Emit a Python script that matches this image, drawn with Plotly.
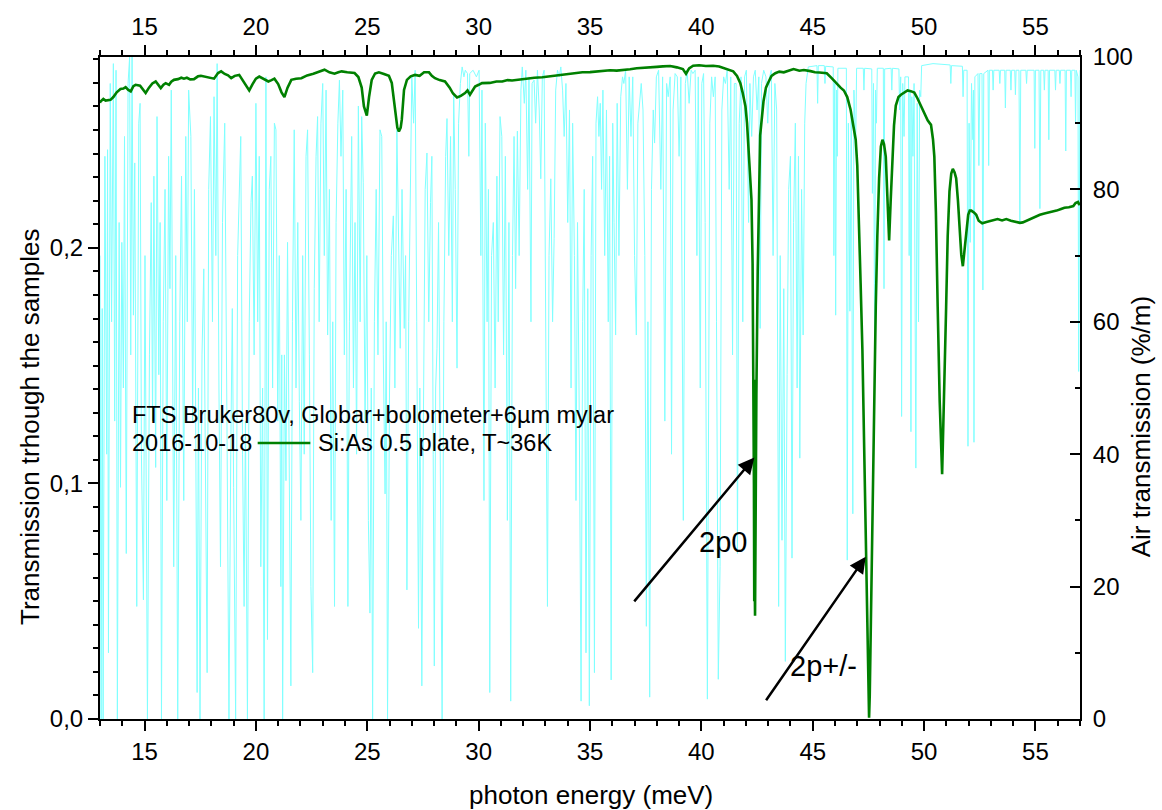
import plotly.graph_objects as go

# ---- air transmission (%/m), dense absorption forest 13-29 meV ----
air_e_a = [13.00, 13.05, 13.10, 13.14, 13.22, 13.30, 13.34, 13.38, 13.46, 13.52, 13.60, 13.66, 13.72, 13.78,
           13.86, 13.92, 13.98, 14.05, 14.10, 14.18, 14.26, 14.33, 14.38, 14.44, 14.50, 14.56, 14.65, 14.74,
           14.80, 14.86, 14.95, 15.02, 15.13, 15.22, 15.30, 15.36, 15.42, 15.50, 15.56, 15.64, 15.70, 15.76,
           15.84, 15.92, 16.00, 16.08, 16.14, 16.20, 16.31, 16.40, 16.49, 16.58, 16.66, 16.76, 16.85, 16.92,
           16.98, 17.08, 17.16, 17.24, 17.36, 17.42, 17.49, 17.58, 17.66, 17.74, 17.81, 17.88, 17.96, 18.05,
           18.12, 18.20, 18.26, 18.34, 18.41, 18.50, 18.60, 18.70, 18.79, 18.87, 18.94, 19.00, 19.09, 19.18,
           19.26, 19.32, 19.40, 19.47, 19.53, 19.62, 19.70, 19.78, 19.84, 19.92, 20.00, 20.08, 20.15, 20.22,
           20.30, 20.37, 20.45, 20.52, 20.60, 20.67, 20.75, 20.83, 20.90, 20.98, 21.05, 21.12, 21.16, 21.20,
           21.28, 21.35, 21.42, 21.50, 21.57, 21.64, 21.72, 21.80, 21.88, 21.95, 22.02, 22.10, 22.17, 22.25,
           22.32, 22.40, 22.47, 22.55, 22.62, 22.70, 22.77, 22.84, 22.92, 23.00, 23.07, 23.15, 23.22, 23.30,
           23.38, 23.45, 23.53, 23.60, 23.68, 23.75, 23.82, 23.90, 23.97, 24.05, 24.13, 24.20, 24.30, 24.38,
           24.45, 24.52, 24.60, 24.68, 24.75, 24.82, 24.90, 24.98, 25.05, 25.12, 25.18, 25.24, 25.32, 25.40,
           25.48, 25.57, 25.65, 25.72, 25.80, 25.85, 25.91, 26.00, 26.08, 26.17, 26.24, 26.33, 26.40, 26.48,
           26.56, 26.66, 26.72, 26.78, 26.86, 26.94, 27.00, 27.08, 27.15, 27.22, 27.30, 27.36, 27.45, 27.52,
           27.60, 27.68, 27.76, 27.84, 27.90, 27.96, 28.01, 28.07, 28.13, 28.20, 28.28, 28.36, 28.44, 28.52,
           28.58, 28.66, 28.74, 28.82, 28.88, 28.95, 29.03, 29.10, 29.18]
air_t_a = [70, 0, 62, 0, 85, 40, 86, 10, 96, 60, 99, 45, 98, 0,
           75, 35, 72, 50, 88, 25, 96, 100, 55, 100, 61, 84, 17, 90,
           93, 40, 18, 70, 0, 55, 78, 45, 82, 38, 91, 52, 75, 0,
           60, 80, 33, 85, 65, 95, 23, 70, 0, 60, 82, 33, 88, 60,
           95, 88, 45, 80, 4, 50, 0, 55, 68, 30, 7, 80, 91, 60,
           94, 70, 99, 50, 23, 75, 90, 45, 0, 40, 62, 35, 0, 70,
           82, 88, 40, 17, 45, 0, 60, 78, 82, 55, 93, 60, 85, 23,
           50, 0, 97, 12, 80, 85, 50, 90, 89, 45, 70, 20, 55, 0,
           55, 36, 72, 40, 5, 60, 89, 50, 75, 48, 30, 70, 40, 85,
           89, 55, 20, 7, 65, 85, 91, 60, 90, 96, 70, 95, 58, 80,
           30, 60, 17, 75, 90, 96.5, 85, 95, 55, 80, 17, 60, 88, 50,
           75, 40, 92.6, 60, 91, 81, 45, 70, 30, 16, 50, 0, 60, 80,
           55, 89, 88, 55, 34, 60, 0, 50, 70, 76, 50, 89, 75, 56,
           80, 59, 70, 19.5, 60, 85, 97, 90, 98, 60, 13.7, 50, 5, 45,
           80, 85.5, 60, 78, 85, 40, 8, 50, 56, 75, 35, 0, 60, 85,
           90.7, 70, 88, 60, 94.6, 80, 53, 90, 96]

# ---- air transmission, 29-45 meV: clusters of lines between clear windows ----
air_e_b = [29.26, 29.34, 29.40, 29.50, 29.56, 29.60, 29.75, 29.90, 30.02, 30.10, 30.15, 30.24, 30.30, 30.38,
           30.44, 30.50, 30.58, 30.66, 30.74, 30.82, 30.88, 30.96, 31.04, 31.12, 31.20, 31.29, 31.36, 31.44,
           31.52, 31.59, 31.66, 31.74, 31.82, 31.90, 31.96, 32.05, 32.12, 32.20, 32.26, 32.35, 32.40, 32.49,
           32.56, 32.64, 32.72, 32.79, 32.86, 32.94, 33.01, 33.09, 33.16, 33.24, 33.32, 33.39, 33.46, 33.54,
           33.62, 33.69, 33.77, 33.84, 33.92, 34.00, 34.08, 34.15, 34.22, 34.30, 34.37, 34.44, 34.52, 34.60,
           34.67, 34.74, 34.82, 34.90, 34.97, 35.05, 35.12, 35.20, 35.27, 35.34, 35.40, 35.46, 35.52, 35.58,
           35.66, 35.74, 35.82, 35.88, 35.95, 36.02, 36.08, 36.15, 36.22, 36.30, 36.38, 36.46, 36.52, 36.60,
           36.68, 36.76, 36.84, 36.92, 37.00, 37.08, 37.15, 37.23, 37.30, 37.38, 37.46, 37.53, 37.60, 37.68,
           37.76, 37.84, 37.90, 37.98, 38.08, 38.18, 38.26, 38.36, 38.44, 38.51, 38.60, 38.66, 38.73, 38.82,
           38.92, 39.00, 39.08, 39.19, 39.28, 39.36, 39.45, 39.54, 39.62, 39.72, 39.80, 39.86, 39.95, 40.02,
           40.10, 40.17, 40.27, 40.38, 40.46, 40.54, 40.62, 40.68, 40.76, 40.84, 40.92, 41.00, 41.08, 41.16,
           41.25, 41.32, 41.40, 41.48, 41.56, 41.62, 41.70, 41.78, 41.86, 41.94, 42.02, 42.12, 42.18, 42.26,
           42.34, 42.42, 42.50, 42.58, 42.64, 42.70, 42.80, 42.90, 42.98, 43.06, 43.14, 43.22, 43.30, 43.38,
           43.47, 43.54, 43.62, 43.70, 43.77, 43.85, 43.92, 44.00, 44.07, 44.14, 44.22, 44.30, 44.36, 44.42,
           44.50, 44.57, 44.64, 44.70]
air_t_b = [98.5, 97, 98, 97.5, 85, 97.5, 98, 97, 98, 70, 95, 33, 90, 60,
           80, 4, 70, 75, 50, 82, 60, 91, 88, 55, 85, 30, 75, 2.7,
           70, 88, 65, 88.8, 70, 95, 98.5, 93, 98, 80, 97, 60, 96, 96.5,
           90, 98, 92, 81.6, 97, 98, 60, 17, 70, 81.6, 60, 72.6, 95, 98,
           97, 98.5, 95, 88, 96, 75, 92, 50, 90, 70, 33, 75, 45, 2.7,
           60, 80, 10, 65, 2, 70, 85, 7, 90, 94, 88, 93, 80, 95,
           70, 92, 60, 85, 5.9, 90, 75, 58, 93, 70, 94, 97, 96, 98,
           80, 97, 88, 97, 70, 58, 90, 93, 96, 92, 70, 14, 60, 3.3,
           80, 92, 87, 97, 98, 80, 97, 45, 96, 94, 97, 40, 92, 97.5,
           97, 85, 97, 30, 96, 98, 93, 98, 97.5, 98, 70, 97, 50, 96,
           97.5, 75, 3, 90, 97, 94, 97, 60, 6, 23, 92, 97, 96, 98,
           80, 97, 55, 96, 96, 25, 90, 97, 60, 97, 98, 75, 96, 88,
           97, 98, 92, 97, 59, 96, 98, 97, 90, 97, 98, 70, 96, 92,
           17, 70, 27, 65, 8.7, 52, 80, 85, 24.3, 75, 90, 50, 85, 39.4,
           80, 58, 90, 96]

# ---- air transmission, 45-57 meV: clear window with isolated lines ----
air_e_c = [44.80, 45.19, 45.22, 45.25, 45.52, 45.55, 45.58, 45.92, 45.95, 45.99, 46.03, 46.07, 46.10, 46.13,
           46.51, 46.55, 46.60, 46.67, 46.73, 46.80, 46.85, 46.93, 46.97, 47.27, 47.30, 47.33, 47.65, 47.68,
           47.73, 47.78, 47.82, 47.86, 47.90, 48.17, 48.20, 48.23, 48.52, 48.55, 48.58, 48.87, 48.90, 48.95,
           48.99, 49.04, 49.10, 49.14, 49.30, 49.33, 49.37, 49.41, 49.45, 49.50, 49.55, 49.63, 49.69, 49.75,
           49.80, 49.85, 49.89, 50.40, 51.00, 51.17, 51.20, 51.23, 51.72, 51.75, 51.78, 51.93, 51.97, 52.02,
           52.07, 52.13, 52.19, 52.215, 52.24, 52.28, 52.42, 52.46, 52.50, 52.60, 52.64, 52.68, 52.87, 52.90,
           52.93, 53.07, 53.10, 53.13, 53.37, 53.40, 53.43, 53.62, 53.65, 53.68, 53.87, 53.90, 53.93, 54.07,
           54.10, 54.13, 54.26, 54.30, 54.34, 54.57, 54.60, 54.63, 54.94, 54.97, 55.00, 55.16, 55.20, 55.24,
           55.37, 55.40, 55.43, 55.57, 55.60, 55.63, 55.87, 55.90, 55.93, 56.07, 56.10, 56.13, 56.33, 56.36,
           56.39, 56.57, 56.60, 56.63, 56.77, 56.80, 56.83, 56.91, 56.94, 56.97, 57.00]
air_t_c = [98.5, 98.7, 93, 98.7, 98.7, 96, 98.6, 98.5, 70, 96, 61, 95, 85, 98.3,
           98.3, 24, 90, 61.6, 92, 31, 95, 86.5, 98.3, 98.3, 95, 98.3, 98.2, 79.4,
           96, 55, 95, 90, 98.3, 98.3, 65, 98.2, 98.3, 95, 98.3, 98.2, 92, 97,
           45.7, 96, 88, 97, 97, 70, 95, 43.4, 94, 85, 96, 37.9, 93, 60,
           95, 94, 98.7, 99, 98.8, 98.8, 96, 98.7, 98.6, 94, 98, 98, 41.2, 90,
           72, 96, 87.5, 95, 41.8, 97, 97.5, 83.6, 97.5, 97.5, 64.8, 97.5, 98, 83.6,
           98, 98, 95, 98, 98, 96, 98, 98, 92.3, 98, 98, 95, 98, 98,
           94.3, 98, 98, 74.8, 98, 98, 96, 98, 98, 86.2, 98, 98, 77.1, 98,
           98, 95, 98, 98, 87.5, 98, 98, 95, 98, 98, 96, 98, 98, 85.8,
           98, 98, 94, 98, 98, 90, 98, 97, 52.5, 97, 98]

# ---- Si:As 0.5 plate, T~36K: transmission through the sample ----
sample_e_a = [13.00, 13.02, 13.15, 13.25, 13.47, 13.60, 13.75, 13.92, 14.05, 14.15, 14.27, 14.38, 14.50, 14.60,
              14.80, 14.95, 15.05, 15.20, 15.35, 15.50, 15.62, 15.73, 15.85, 15.95, 16.10, 16.20, 16.32, 16.50,
              16.65, 16.77, 16.90, 17.05, 17.22, 17.40, 17.53, 17.70, 17.90, 18.12, 18.30, 18.44, 18.60, 18.75,
              18.89, 19.05, 19.25, 19.45, 19.60, 19.70, 19.85, 20.00, 20.15, 20.35, 20.56, 20.70, 20.83, 21.00,
              21.15, 21.28, 21.42, 21.59, 21.80, 22.04, 22.30, 22.58, 22.80, 23.08, 23.30, 23.53, 23.70, 23.85,
              24.10, 24.43, 24.60, 24.75, 24.85, 24.98, 25.08, 25.20, 25.35, 25.52, 25.75, 25.97, 26.10, 26.22,
              26.35, 26.42, 26.50, 26.55, 26.65, 26.78, 26.95, 27.14, 27.35, 27.55, 27.77, 27.90, 28.04, 28.25,
              28.49, 28.70, 28.85, 29.03, 29.20, 29.39, 29.50, 29.61, 29.72, 29.84, 30.00, 30.15, 30.50, 30.80,
              31.06, 31.30, 31.50, 31.96, 32.20, 32.50, 32.86, 33.20, 33.50, 33.76, 34.10, 34.40, 34.66, 35.00,
              35.30, 35.56, 35.90, 36.20, 36.47, 36.80, 37.10, 37.37, 37.70, 38.00, 38.27, 38.60, 38.90, 39.17,
              39.31, 39.45, 39.63, 39.90, 40.20, 40.53, 40.80, 41.12, 41.30, 41.43, 41.60, 41.75, 41.85, 41.98,
              42.05, 42.11, 42.18, 42.25]
sample_t_a = [0.2615, 0.2621, 0.2632, 0.2625, 0.2628, 0.2640, 0.2660, 0.2674, 0.2676, 0.2682, 0.2670, 0.2664,
              0.2686, 0.2692, 0.2688, 0.2668, 0.2657, 0.2680, 0.2698, 0.2706, 0.2690, 0.2678, 0.2692, 0.2699,
              0.2692, 0.2705, 0.2713, 0.2716, 0.2722, 0.2718, 0.2722, 0.2715, 0.2716, 0.2728, 0.2730, 0.2726,
              0.2722, 0.2718, 0.2742, 0.2749, 0.2738, 0.2732, 0.2720, 0.2730, 0.2734, 0.2705, 0.2680, 0.2668,
              0.2695, 0.2718, 0.2727, 0.2715, 0.2706, 0.2712, 0.2718, 0.2695, 0.2660, 0.2640, 0.2680, 0.2713,
              0.2718, 0.2720, 0.2732, 0.2739, 0.2748, 0.2756, 0.2745, 0.2739, 0.2745, 0.2749, 0.2745, 0.2742,
              0.2725, 0.2680, 0.2600, 0.2561, 0.2640, 0.2713, 0.2740, 0.2745, 0.2738, 0.2730, 0.2700, 0.2610,
              0.2510, 0.2494, 0.2510, 0.2544, 0.2670, 0.2713, 0.2728, 0.2734, 0.2730, 0.2745, 0.2745, 0.2730,
              0.2720, 0.2712, 0.2706, 0.2680, 0.2655, 0.2638, 0.2645, 0.2657, 0.2668, 0.2650, 0.2668, 0.2685,
              0.2692, 0.2699, 0.2700, 0.2706, 0.2706, 0.2712, 0.2710, 0.2716, 0.2718, 0.2722, 0.2724, 0.2728,
              0.2732, 0.2734, 0.2738, 0.2744, 0.2745, 0.2746, 0.2749, 0.2749, 0.2754, 0.2752, 0.2756, 0.2758,
              0.2762, 0.2763, 0.2766, 0.2768, 0.2770, 0.2772, 0.2766, 0.2759, 0.2739, 0.2762, 0.2773, 0.2775,
              0.2772, 0.2773, 0.2770, 0.2759, 0.2754, 0.2749, 0.2730, 0.2699, 0.2660, 0.2600, 0.2530, 0.2416,
              0.2300, 0.2204]

# 2p0 and 2p+/- lines and the higher excited states
sample_e_b = [42.30, 42.34, 42.36, 42.375, 42.385, 42.395, 42.41, 42.43, 42.47, 42.53, 42.57, 42.64, 42.79,
              42.90, 43.02, 43.15, 43.32, 43.50, 43.70, 43.90, 44.14, 44.40, 44.60, 44.90, 45.10, 45.30, 45.63,
              45.85, 46.09, 46.25, 46.40, 46.55, 46.70, 46.85, 46.93, 47.00, 47.08, 47.15, 47.23, 47.30, 47.38,
              47.45, 47.50, 47.53, 47.56, 47.62, 47.68, 47.75, 47.83, 47.90, 47.98, 48.06, 48.13, 48.20, 48.28,
              48.35, 48.43, 48.50, 48.58, 48.65, 48.73, 48.85, 48.96, 49.10, 49.26, 49.40, 49.56, 49.70, 49.86,
              50.00, 50.16, 50.31, 50.40, 50.46, 50.53, 50.61, 50.70, 50.81, 50.90, 50.99, 51.06, 51.14, 51.22,
              51.29, 51.37, 51.44, 51.52, 51.60, 51.67, 51.74, 51.80, 51.89, 51.98, 52.05, 52.12, 52.25, 52.34,
              52.45, 52.61, 52.80, 52.94, 53.10, 53.30, 53.50, 53.69, 53.90, 54.10, 54.30, 54.43, 54.60, 54.80,
              55.00, 55.20, 55.40, 55.60, 55.80, 55.95, 56.15, 56.30, 56.50, 56.70, 56.80, 56.91, 56.97, 57.00]
sample_t_b = [0.1932, 0.1440, 0.1000, 0.0500, 0.1440, 0.0600, 0.0438, 0.0800, 0.1380, 0.1900, 0.2115, 0.2477,
              0.2622, 0.2680, 0.2705, 0.2730, 0.2741, 0.2748, 0.2745, 0.2752, 0.2759, 0.2752, 0.2755, 0.2750,
              0.2745, 0.2744, 0.2741, 0.2720, 0.2695, 0.2680, 0.2668, 0.2640, 0.2586, 0.2500, 0.2459, 0.2350,
              0.2113, 0.1850, 0.1567, 0.1200, 0.0839, 0.0400, 0.0080, 0.0005, 0.0100, 0.0500, 0.0839, 0.1300,
              0.1750, 0.2050, 0.2295, 0.2430, 0.2459, 0.2440, 0.2387, 0.2220, 0.2031, 0.2200, 0.2387, 0.2520,
              0.2604, 0.2640, 0.2650, 0.2660, 0.2668, 0.2665, 0.2659, 0.2635, 0.2604, 0.2570, 0.2541, 0.2522,
              0.2460, 0.2387, 0.2150, 0.1750, 0.1350, 0.1039, 0.1350, 0.1750, 0.2050, 0.2240, 0.2315, 0.2335,
              0.2320, 0.2295, 0.2200, 0.2076, 0.1970, 0.1922, 0.1980, 0.2076, 0.2140, 0.2158, 0.2158, 0.2149,
              0.2140, 0.2115, 0.2104, 0.2110, 0.2113, 0.2118, 0.2122, 0.2116, 0.2122, 0.2115, 0.2112, 0.2106,
              0.2108, 0.2115, 0.2125, 0.2132, 0.2140, 0.2146, 0.2150, 0.2155, 0.2158, 0.2165, 0.2170, 0.2172,
              0.2177, 0.2190, 0.2195, 0.2182, 0.2192]

air_e = air_e_a + air_e_b + air_e_c
air_t = air_t_a + air_t_b + air_t_c
sample_e = sample_e_a + sample_e_b
sample_t = sample_t_a + sample_t_b

FONT = "Liberation Sans, Arial, sans-serif"
BLACK = "#000000"
GREEN = "#008000"
TICK_SIZE = 24
TITLE_SIZE = 26
TEXT_SIZE = 23.5

fig = go.Figure()
# air spectrum on the bottom axis / right scale
fig.add_trace(go.Scatter(x=air_e, y=air_t, mode="lines", xaxis="x", yaxis="y",
                         line=dict(color="#80ffff", width=1), showlegend=False, hoverinfo="skip"))
# sample spectrum on the top axis / left scale, drawn over the air spectrum
fig.add_trace(go.Scatter(x=sample_e, y=sample_t, mode="lines", xaxis="x2", yaxis="y2",
                         line=dict(color=GREEN, width=2.6), showlegend=False,
                         name="Si:As 0.5 plate, T~36K"))

axis_line = dict(showline=True, linewidth=2, linecolor=BLACK, showgrid=False, zeroline=False,
                 automargin=False, tickwidth=2, tickcolor=BLACK)

xcommon = dict(range=[13, 57], tick0=0, dtick=5, ticks="outside", ticklen=10,
               tickfont=dict(size=TICK_SIZE, color=BLACK),
               minor=dict(dtick=1, ticks="outside", ticklen=5, tickwidth=2, tickcolor=BLACK),
               **axis_line)

fig.update_layout(
    width=1162, height=810, autosize=False,
    margin=dict(l=100, r=82, t=57, b=91),
    paper_bgcolor="white", plot_bgcolor="white",
    font=dict(family=FONT, color=BLACK, size=TICK_SIZE),
    separators=", ",
    xaxis=dict(**xcommon, anchor="y"),
    xaxis2=dict(**xcommon, overlaying="x", side="top", anchor="y2"),
    yaxis=dict(range=[0, 100], dtick=20, side="right", anchor="x", ticks="inside", ticklen=10,
               tickfont=dict(size=TICK_SIZE), ticklabelstandoff=6,
               minor=dict(dtick=10, ticks="inside", ticklen=5, tickwidth=2, tickcolor=BLACK),
               **axis_line),
    yaxis2=dict(range=[0, 0.281], dtick=0.1, tickformat=".1f", side="left", overlaying="y",
                anchor="x2", ticks="outside", ticklen=10, tickfont=dict(size=TICK_SIZE),
                minor=dict(dtick=0.01, ticks="outside", ticklen=5, tickwidth=2, tickcolor=BLACK),
                **axis_line),
)

# axis titles
axis_titles = ["photon energy (meV)", "Transmission trhough the samples", "Air transmission (%/m)"]
title_pos = [(0.501, -0.115, 0), (-0.0715, 0.441, -90), (1.0625, 0.441, -90)]
for txt, (tx, ty, ang) in zip(axis_titles, title_pos):
    fig.add_annotation(text=txt, xref="paper", yref="paper", x=tx, y=ty, textangle=ang,
                       xanchor="center", yanchor="middle", showarrow=False,
                       font=dict(size=TITLE_SIZE))

# legend block drawn as text plus a line sample
fig.add_annotation(text="FTS Bruker80v, Globar+bolometer+6µm mylar", xref="paper", yref="paper",
                   x=0.0306, y=0.459, xanchor="left", yanchor="middle", showarrow=False,
                   font=dict(size=TEXT_SIZE))
fig.add_annotation(text="2016-10-18", xref="paper", yref="paper", x=0.0306, y=0.417,
                   xanchor="left", yanchor="middle", showarrow=False, font=dict(size=TEXT_SIZE))
fig.add_shape(type="line", xref="paper", yref="paper", x0=0.1609, x1=0.2146, y0=0.417, y1=0.417,
              line=dict(color=GREEN, width=2.6))
fig.add_annotation(text="Si:As 0.5 plate, T~36K", xref="paper", yref="paper", x=0.2204, y=0.417,
                   xanchor="left", yanchor="middle", showarrow=False, font=dict(size=TEXT_SIZE))

# arrows pointing at the 2p0 and 2p+/- lines
arrow_heads = [(42.38, 0.111), (47.38, 0.0689)]
arrow_tails = [(36.93, 0.0493), (42.86, 0.0073)]
for (hx, hy), (tx, ty) in zip(arrow_heads, arrow_tails):
    fig.add_annotation(x=hx, y=hy, ax=tx, ay=ty, xref="x2", yref="y2", axref="x2", ayref="y2",
                       text="", showarrow=True, arrowhead=2, arrowsize=1.3, arrowwidth=2.5,
                       arrowcolor=BLACK)

peak_labels = ["2p0", "2p+/-"]
label_pos = [(40.99, 0.0752), (45.5, 0.0225)]
for txt, (lx, ly) in zip(peak_labels, label_pos):
    fig.add_annotation(text=txt, x=lx, y=ly, xref="x2", yref="y2", showarrow=False,
                       font=dict(size=29))

fig.write_html("out.html")
